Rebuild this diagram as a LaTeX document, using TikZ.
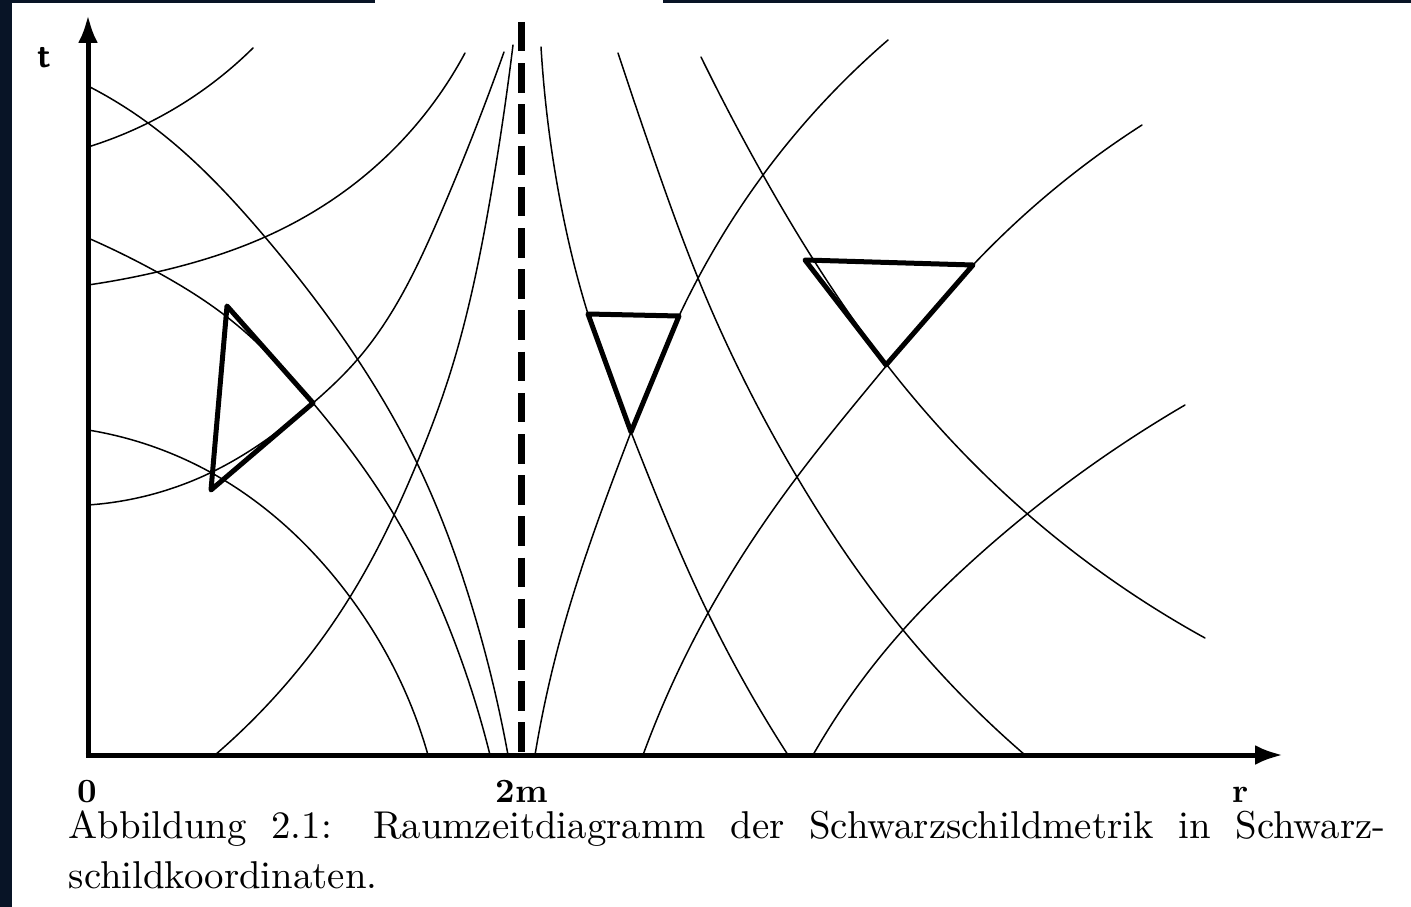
\documentclass[tikz,border=0pt]{standalone}
\usetikzlibrary{arrows.meta,hobby}
\definecolor{navy}{RGB}{8,20,38}
\begin{document}
\begin{tikzpicture}[x=1pt,y=-1pt, use Hobby shortcut,
  ray/.style={line width=1.5pt, line cap=round},
  cone/.style={line width=5pt, line join=round},
  axisline/.style={line width=5pt, -{Latex[length=28pt,width=20pt]}},
  horizon/.style={line width=7pt, dash pattern=on 29.5pt off 11.7pt},
  lbl/.style={inner sep=0pt, scale=3.4, font=\bfseries},
  capt/.style={inner sep=0pt, anchor=base west, scale=3.88, font=\fontsize{10}{12}\selectfont}]
\fill[white] (0,0) rectangle (1411,907);
\useasboundingbox (0,0) rectangle (1411,907);
\fill[navy] (0,0) rectangle (12,907);
\fill[navy] (0,0) rectangle (375,3.5);
\fill[navy] (663,0) rectangle (1411,3.5);

% horizon r = 2m
\draw[horizon] (521,22) -- (521,755);

% light rays inside (r<2m)
\draw[ray] (88,86) .. (148,123) .. (265,237) .. (358,360) .. (417,463) .. (470,600) .. (508,755);
\draw[ray] (88,238) .. (157,272) .. (227,317) .. (313,403) .. (393,513) .. (450,630) .. (490,755);
\draw[ray] (88,430) .. (210,472) .. (350,597) .. (395,670) .. (428,755);
\draw[ray] (88,147) .. (148,123) .. (253,48);
\draw[ray] (88,285) .. (157,272) .. (265,237) .. (363,177) .. (465,53);
\draw[ray] (88,505) .. (210,473) .. (313,403) .. (357,360) .. (440,215) .. (504,52);
\draw[ray] (215,755) .. (350,597) .. (417,463) .. (448,380) .. (490,200) .. (513,45);

% light rays outside (r>2m)
\draw[ray] (535,755) .. (560,640) .. (631,432) .. (679,316) .. (763,175) .. (888,40);
\draw[ray] (541,47) .. (560,200) .. (588,314) .. (631,432) .. (708,613) .. (788,755);
\draw[ray] (618,53) .. (656,165) .. (700,283) .. (797,477) .. (903,630) .. (1025,755);
\draw[ray] (701,57) .. (763,175) .. (887,365) .. (970,460) .. (1205,638);
\draw[ray] (643,755) .. (708,613) .. (797,477) .. (887,365) .. (973,265) .. (1142,125);
\draw[ray] (813,755) .. (903,630) .. (970,563) .. (1185,405);

% light cones
\draw[cone] (227,306) -- (313,403) -- (211,490) -- cycle;
\draw[cone] (588,314) -- (679,316) -- (631,432) -- cycle;
\draw[cone] (805,260) -- (973,265) -- (886,365) -- cycle;

% axes
\coordinate (origin) at (88,755);
\coordinate (ttip) at (88,15);
\coordinate (rtip) at (1283,755);
\draw[axisline] (88,757.5) -- (ttip);
\draw[axisline] (85.5,755) -- (rtip);

% labels
\node[lbl, anchor=base] (tlab) at (44,67) {\sffamily\bfseries t};
\node[lbl, anchor=base] (zero) at (87,802) {0};
\node[lbl, anchor=base] (twom) at (522,802) {2m};
\node[lbl, anchor=base] (rlab) at (1241,802) {r};

% caption
\node[capt] (cap1) at (68,838) {\makebox[339.4pt][s]{Abbildung 2.1: Raumzeitdiagramm der Schwarzschildmetrik in Schwarz-}};
\node[capt] (cap2) at (68,888) {schildkoordinaten.};
\end{tikzpicture}
\end{document}
